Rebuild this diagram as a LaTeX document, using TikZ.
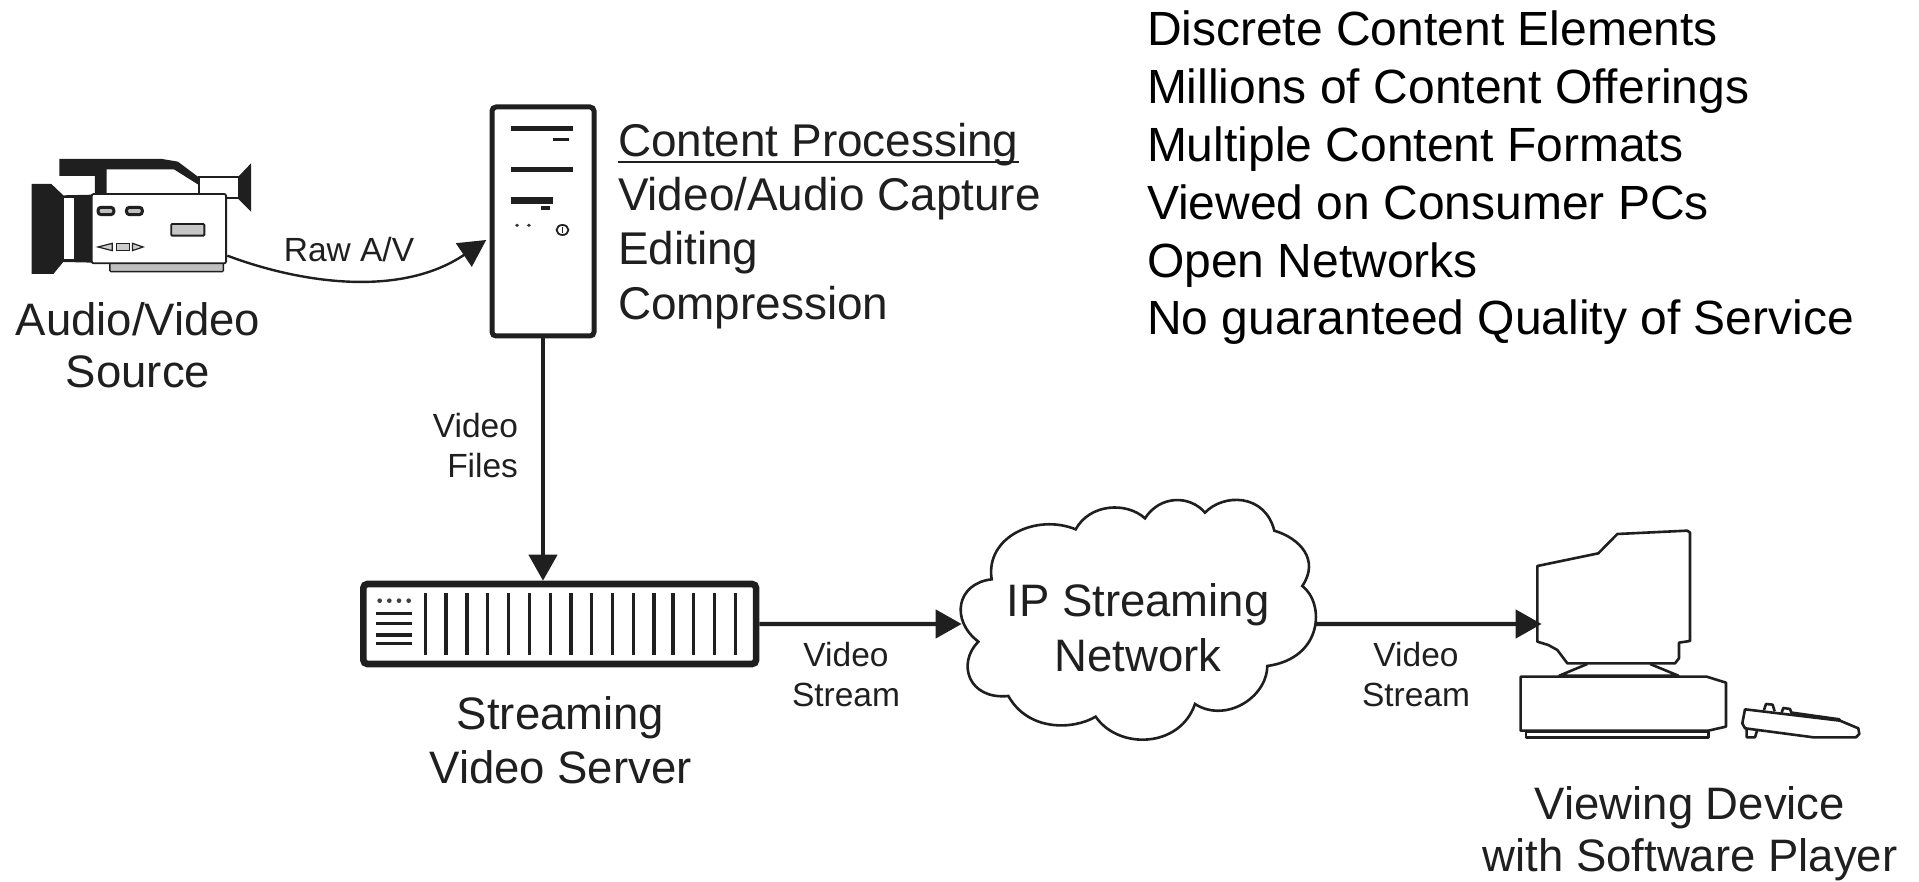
\documentclass[tikz,border=0pt]{standalone}
\usepackage{fontspec}
\setmainfont{Liberation Sans}
\usetikzlibrary{arrows.meta}
\definecolor{ink}{gray}{0.12}
\tikzset{
  lbl/.style={inner sep=0pt,outer sep=0pt,text=ink,anchor=base,align=center},
  big/.style={lbl,font=\fontsize{45.5}{54}\selectfont},
  small/.style={lbl,font=\fontsize{33.5}{39.5}\selectfont},
  listitem/.style={inner sep=0pt,outer sep=0pt,anchor=base west,text=black,font=\fontsize{48}{58}\selectfont},
  proc/.style={inner sep=0pt,outer sep=0pt,anchor=base west,text=ink,font=\fontsize{45.9}{54}\selectfont},
  conn/.style={draw=ink,line width=4.4pt,-{Triangle[length=26pt,width=28pt]}},
  thinconn/.style={draw=ink,line width=2.4pt,-{Triangle[length=27pt,width=28pt]}},
  devline/.style={draw=ink,line width=2.6pt,fill=white,line join=round},
  box/.style={draw=ink,fill=white,inner sep=0pt,rounded corners=4pt},
}
\begin{document}
\begin{tikzpicture}[x=1pt,y=-1pt]
\useasboundingbox (0,0) rectangle (1919,882);

% ---- camera (zoomed coordinates)
\begin{scope}[shift={(0,90)},xscale=0.3953,yscale=0.3333]
  \fill[ink] (80,282) -- (130,282) -- (160,316) -- (236,314) -- (236,518) -- (160,516) -- (135,552) -- (80,552) -- cycle;
  \fill[white] (163,325) rectangle (187,508);
  \fill[ink] (150,207) -- (410,207) -- (450,215) -- (503,262) -- (503,285) -- (440,238) -- (270,238) -- (270,312) -- (240,312) -- (240,258) -- (150,258) -- cycle;
  \draw[ink,line width=1.8pt,fill=white] (503,262) rectangle (605,325);
  \fill[ink] (603,260) -- (635,220) -- (635,365) -- (603,327) -- cycle;
  \draw[ink,line width=1.4pt,fill=black!25,rounded corners=1pt] (278,518) rectangle (565,545);
  \draw[ink,line width=1.8pt,fill=white,rounded corners=2pt] (232,312) rectangle (572,520);
  \draw[ink,line width=3pt,fill=black!25,rounded corners=3pt] (248,352) rectangle (288,374);
  \draw[ink,line width=3pt,fill=black!25,rounded corners=3pt] (320,352) rectangle (360,374);
  \draw[ink,line width=1.8pt,fill=black!22,rounded corners=1pt] (433,402) rectangle (517,437);
  \draw[ink,line width=1.2pt,fill=black!20] (248,471) -- (284,460) -- (284,482) -- cycle;
  \draw[ink,line width=1.2pt,fill=black!20] (295,460) rectangle (328,482);
  \draw[ink,line width=1.2pt,fill=black!20] (362,471) -- (335,460) -- (335,482) -- cycle;
  \coordinate (camout) at (575,497);
\end{scope}

% ---- tower
\node[box,line width=5pt,minimum width=102pt,minimum height=229pt] (tower) at (543,221.5) {};
\begin{scope}[shift={(0,90)},xscale=0.3953,yscale=0.3333]
  \fill[ink] (1293,108) rectangle (1450,122);
  \fill[ink] (1398,144) rectangle (1440,154);
  \fill[ink] (1293,231) rectangle (1450,245);
  \fill[ink] (1293,320) rectangle (1400,342);
  \fill[ink] (1368,349) rectangle (1392,359);
  \fill[ink!90] (1308,406) circle (5) (1338,406) circle (5);
  \draw[ink,line width=1.8pt] (1423,420) circle (15);
  \draw[ink,line width=1.8pt] (1423,412) -- (1423,428);
  \coordinate (towerin) at (1230,450);
\end{scope}

% ---- server
\node[box,line width=6.6pt,minimum width=392.7pt,minimum height=80pt] (server) at (559.7,624) {};
\begin{scope}[shift={(340,560)},scale=0.3333]
  \foreach \x in {256,318.5,381,443,506,568,631,693,755,818,880,942,999,1061,1124,1186}
    \draw[ink,line width=3.6pt] (\x,100) -- (\x,285);
  \foreach \y/\w in {161/3.4,190/3.4,225/3.8,252/3}
    \draw[ink,line width=\w pt] (108,\y) -- (216,\y);
  \foreach \x in {119,148,177,206}
    \fill[ink!85] (\x,122) circle (7);
\end{scope}

% ---- cloud
\begin{scope}[shift={(930,480)},scale=0.3333]
  \draw[ink,line width=2.6pt,fill=white,line join=miter]
    (185,298) .. controls (165,170) and (320,100) .. (437,148)
    .. controls (480,70) and (590,65) .. (645,115)
    .. controls (690,45) and (780,45) .. (825,98)
    .. controls (880,40) and (1005,40) .. (1033,152)
    .. controls (1110,175) and (1170,240) .. (1117,318)
    .. controls (1185,370) and (1180,535) .. (1012,558)
    .. controls (1010,655) and (885,730) .. (795,672)
    .. controls (750,805) and (565,810) .. (497,710)
    .. controls (430,750) and (295,755) .. (235,648)
    .. controls (115,660) and (80,550) .. (145,485)
    .. controls (60,420) and (80,310) .. (185,298) -- cycle;
  \coordinate (cloudin) at (95,432);
  \coordinate (cloudout) at (1155,432);
\end{scope}

% ---- monitor, base, keyboard
\begin{scope}[shift={(1480,510)},scale=0.3333]
  \draw[devline] (322,462) -- (238,497) -- (595,497) -- (510,462);
  \draw[devline] (172,168) -- (355,130) -- (412,72) -- (622,62) -- (630,68) -- (630,393) -- (597,398) -- (597,445) -- (585,460) -- (262,460) -- (232,420) -- (205,405) -- (172,395) -- cycle;
  \draw[devline] (138,664) rectangle (685,682);
  \draw[devline] (122,500) -- (680,500) -- (738,518) -- (738,650) -- (685,662) -- (122,662) -- cycle;
  \draw[devline] (852,600) -- (858,582) -- (878,584) -- (884,604);
  \draw[devline] (905,608) -- (910,594) -- (930,597) -- (936,613);
  \draw[devline] (936,608) -- (1078,628) -- (1082,640);
  \draw[devline] (800,655) -- (800,682) -- (825,682) -- (832,660);
  \draw[devline] (795,598) -- (1080,632) -- (1135,655) -- (1138,672) -- (1128,682) -- (1000,682) -- (795,655) -- (787,640) -- cycle;
  \coordinate (monin) at (185,342);
\end{scope}

% ---- connectors
\draw[thinconn] (camout) .. controls (300,283) and (400,298) .. (towerin);
\draw[conn] (tower.south) -- (tower.south |- server.north);
\draw[conn] (server.east) -- (cloudin);
\draw[conn] (cloudout) -- (monin);

% ---- labels
\node[small] (raw) at (349,262) {Raw A/V};
\node[lbl,font=\fontsize{45.5}{52}\selectfont] (src) at (138,388) {Audio/Video\\Source};
\node[lbl,font=\fontsize{33.5}{39.5}\selectfont,anchor=base east,align=right] (files) at (518,477) {Video\\Files};
\node[small] (st1) at (846,706) {Video\\Stream};
\node[small] (st2) at (1416,706) {Video\\Stream};
\node[big] (srv) at (560.6,783) {Streaming\\Video Server};
\node[lbl,font=\fontsize{45.5}{55}\selectfont] (cld) at (1138,671) {IP Streaming\\Network};
\node[lbl,font=\fontsize{45.5}{52}\selectfont] (view) at (1690,871) {Viewing Device\\with Software Player};

\node[proc] (cp) at (618,157) {Content Processing};
\draw[ink,line width=2.4pt] ([yshift=-5pt]cp.base west) -- ([yshift=-5pt]cp.base east);
\node[proc] (cap) at (618,211) {Video/Audio Capture};
\node[proc] (edt) at (618,265) {Editing};
\node[proc] (cmp) at (618,320) {Compression};

\node[listitem] (l1) at (1147,46) {Discrete Content Elements};
\node[listitem] (l2) at (1147,104) {Millions of Content Offerings};
\node[listitem] (l3) at (1147,162) {Multiple Content Formats};
\node[listitem] (l4) at (1147,220) {Viewed on Consumer PCs};
\node[listitem] (l5) at (1147,278) {Open Networks};
\node[listitem] (l6) at (1147,335) {No guaranteed Quality of Service};
\end{tikzpicture}
\end{document}
